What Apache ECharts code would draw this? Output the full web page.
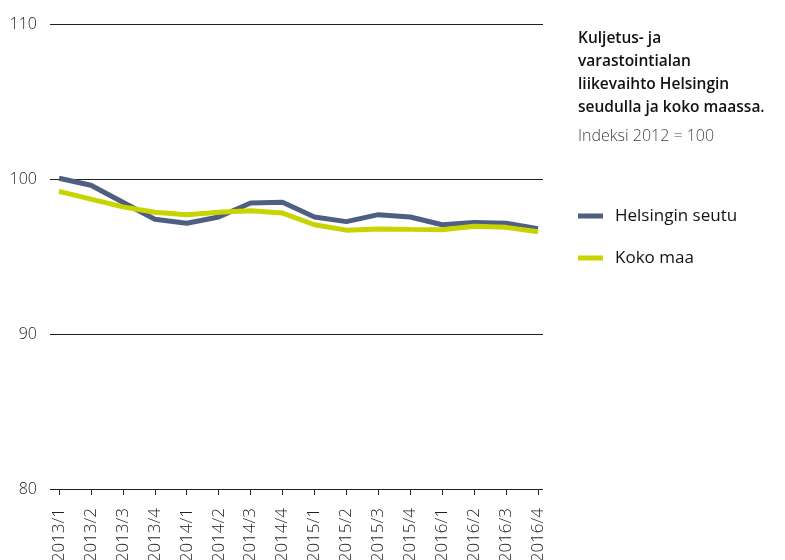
<!DOCTYPE html>
<html><head><meta charset="utf-8">
<script src="https://cdn.jsdelivr.net/npm/echarts@6/dist/echarts.min.js"></script>
<style>html,body{margin:0;padding:0;background:#fff}#c{width:785px;height:560px}</style>
</head><body><div id="c"></div>
<script>
const categories = ['2013/1','2013/2','2013/3','2013/4','2014/1','2014/2','2014/3','2014/4','2015/1','2015/2','2015/3','2015/4','2016/1','2016/2','2016/3','2016/4'];
const helsinki = [100.05, 99.6, 98.5, 97.4, 97.15, 97.55, 98.45, 98.5, 97.55, 97.25, 97.7, 97.55, 97.05, 97.2, 97.15, 96.8];
const kokoMaa = [99.2, 98.7, 98.2, 97.85, 97.7, 97.85, 97.95, 97.8, 97.05, 96.7, 96.78, 96.75, 96.73, 96.95, 96.88, 96.6];
const yTicks = {min: 80, max: 110, interval: 10};
const seriesNames = ['Helsingin seutu', 'Koko maa'];
const titleText = 'Kuljetus- ja\nvarastointialan\nliikevaihto Helsingin\nseudulla ja koko maassa.';
const subText = 'Indeksi 2012 = 100';

const chart = echarts.init(document.getElementById('c'), null, {renderer: 'canvas'});
const font = '"Open Sans", "Noto Sans", sans-serif';
chart.setOption({
  animation: false,
  textStyle: {fontFamily: font},
  title: {
    text: titleText, subtext: subText, left: 573, top: 22,
    itemGap: 6,
    textStyle: {fontFamily: font, fontSize: 15.5, fontWeight: 600, color: '#111', lineHeight: 23},
    subtextStyle: {fontFamily: font, fontSize: 16, fontWeight: 300, color: '#444', lineHeight: 22}
  },
  legend: {
    orient: 'vertical', left: 573, top: 200, itemGap: 20,
    itemWidth: 25, itemHeight: 5, icon: 'rect',
    textStyle: {fontFamily: font, fontSize: 17, color: '#111', lineHeight: 22, padding: [0, 0, 0, 7]},
    data: seriesNames
  },
  grid: [
    {left: 50, right: 242, top: 24, bottom: 71, containLabel: false, outerBoundsMode: 'none'},
    {left: 59, right: 247, top: 24, bottom: 71, containLabel: false, outerBoundsMode: 'none'}
  ],
  xAxis: [
    {gridIndex: 0, type: 'value', min: 0, max: 1, show: false},
    {gridIndex: 1, type: 'category', data: categories, boundaryGap: false,
     axisLine: {show: false},
     axisTick: {show: true, alignWithLabel: true, length: 6, lineStyle: {color: '#222'}},
     axisLabel: {rotate: 90, margin: 19, fontSize: 17, fontWeight: 300, color: '#222', fontFamily: font, interval: 0}}
  ],
  yAxis: [
    {gridIndex: 0, type: 'value', min: yTicks.min, max: yTicks.max, interval: yTicks.interval,
     axisLine: {show: false}, axisTick: {show: false},
     axisLabel: {fontSize: 16, fontWeight: 300, color: '#222', margin: 13, fontFamily: font},
     splitLine: {show: true, lineStyle: {color: '#222', width: 1}}},
    {gridIndex: 1, type: 'value', min: yTicks.min, max: yTicks.max, interval: yTicks.interval, show: false, splitLine: {show: false}}
  ],
  series: [
    {name: seriesNames[0], type: 'line', xAxisIndex: 1, yAxisIndex: 1, data: helsinki,
     showSymbol: false, symbol: 'none', lineStyle: {width: 5, color: '#4f5f82'}, itemStyle: {color: '#4f5f82'}},
    {name: seriesNames[1], type: 'line', xAxisIndex: 1, yAxisIndex: 1, data: kokoMaa,
     showSymbol: false, symbol: 'none', lineStyle: {width: 5, color: '#c8d400'}, itemStyle: {color: '#c8d400'}}
  ]
});
</script></body></html>
